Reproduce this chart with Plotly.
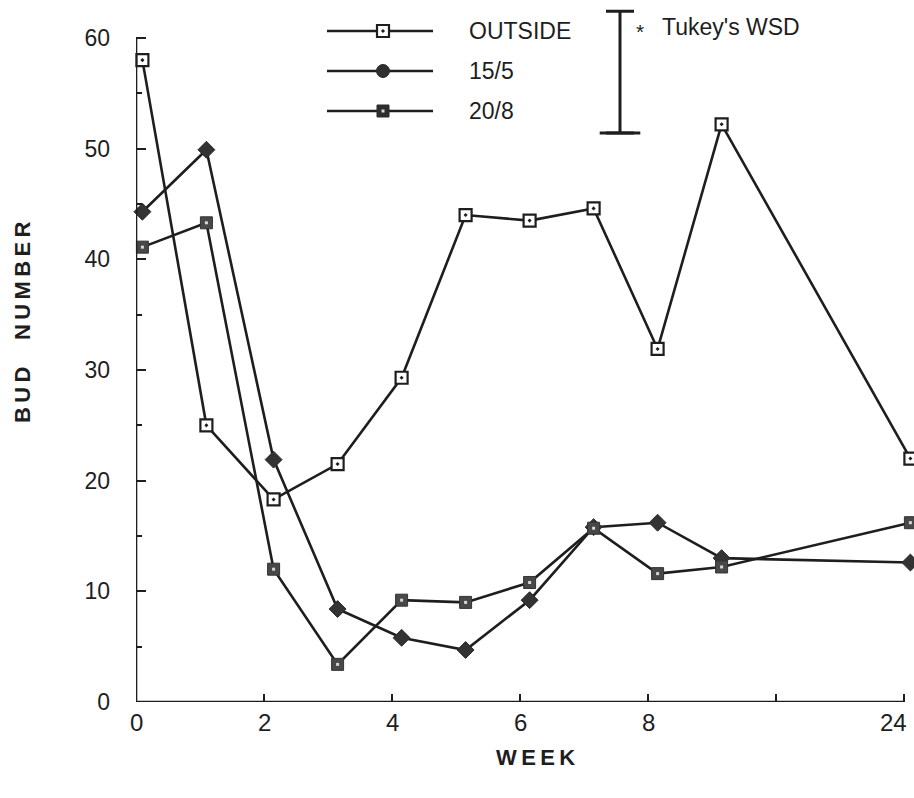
import plotly.graph_objects as go

# Sampling time (weeks) for each observation; the last one is week 24
WEEKS = [0.1, 1.1, 2.15, 3.15, 4.15, 5.15, 6.15, 7.15, 8.15, 9.15, 24.1]

# Bud number per treatment
OUTSIDE = [58.0, 25.0, 18.3, 21.5, 29.3, 44.0, 43.5, 44.6, 31.9, 52.2, 22.0]
T15_5 = [44.3, 49.9, 21.9, 8.4, 5.8, 4.7, 9.2, 15.8, 16.2, 13.0, 12.6]
T20_8 = [41.1, 43.3, 12.0, 3.4, 9.2, 9.0, 10.8, 15.7, 11.6, 12.2, 16.2]

# Tukey's WSD (bud number)
TUKEY_WSD = 11.0

X_TICK_WEEKS = [0, 2, 4, 6, 8, 10, 24]
X_TICK_LABELS = ["0", "2", "4", "6", "8", "", "24"]
Y_TICKS = [0, 10, 20, 30, 40, 50, 60]

INK = "#1e1e1e"
FONT = "Liberation Sans, Arial, Helvetica, sans-serif"


def axis_pos(week):
    """Broken time axis: weeks past 10 are compressed so week 24 sits at 12."""
    return week if week <= 10.5 else week - 12


X = [axis_pos(w) for w in WEEKS]

# figure geometry (pixels)
W, H = 914, 798
ML, MR, MT, MB = 136, 2, 0, 96
PLOT_H = H - MT - MB
PX_PER_X = 64.0
PX_PER_Y = 11.067
X_MAX = (W - ML - MR) / PX_PER_X
Y_MAX = PLOT_H / PX_PER_Y


def dx(px):
    return (px - ML) / PX_PER_X


def dy(py):
    return (H - MB - py) / PX_PER_Y


def py_paper(py):
    return (H - MB - py) / PLOT_H


fig = go.Figure()

# data series
fig.add_trace(go.Scatter(
    x=X, y=OUTSIDE, mode="lines+markers", name="OUTSIDE",
    line=dict(color=INK, width=2.6),
    marker=dict(symbol="square-dot", size=12, color="white",
                line=dict(color=INK, width=2.2)),
    cliponaxis=False, showlegend=False))
fig.add_trace(go.Scatter(
    x=X, y=T15_5, mode="lines+markers", name="15/5",
    line=dict(color=INK, width=2.6),
    marker=dict(symbol="diamond", size=13, color="#333333",
                line=dict(color="#2a2a2a", width=1)),
    cliponaxis=False, showlegend=False))
fig.add_trace(go.Scatter(
    x=X, y=T20_8, mode="lines+markers", name="20/8",
    line=dict(color=INK, width=2.6),
    marker=dict(symbol="square", size=12, color="#484848",
                line=dict(color="#333333", width=1)),
    cliponaxis=False, showlegend=False))
fig.add_trace(go.Scatter(
    x=X, y=T20_8, mode="markers", hoverinfo="skip",
    marker=dict(symbol="square", size=3, color="#d8d8d8"),
    cliponaxis=False, showlegend=False))

# legend samples
LEG_X0, LEG_X1, LEG_XM, LEG_TX = dx(327), dx(433), dx(383), dx(467)
legend_rows = [
    ("OUTSIDE", dy(31), dict(symbol="square-dot", size=12, color="white",
                             line=dict(color=INK, width=2.2))),
    ("15/5", dy(71), dict(symbol="circle", size=13, color="#2e2e2e",
                          line=dict(color="#2a2a2a", width=1))),
    ("20/8", dy(111), dict(symbol="square", size=12, color="#2e2e2e",
                           line=dict(color="#2a2a2a", width=1))),
]
for label, yy, mk in legend_rows:
    fig.add_trace(go.Scatter(
        x=[LEG_X0, LEG_X1], y=[yy, yy], mode="lines",
        line=dict(color=INK, width=2.6), hoverinfo="skip",
        cliponaxis=False, showlegend=False))
    fig.add_trace(go.Scatter(
        x=[LEG_XM], y=[yy], mode="markers", marker=mk, hoverinfo="skip",
        cliponaxis=False, showlegend=False))
    fig.add_annotation(x=LEG_TX, y=yy, text=label, showarrow=False,
                       xanchor="left", yanchor="middle",
                       font=dict(family=FONT, size=23, color=INK))
fig.add_trace(go.Scatter(
    x=[LEG_XM], y=[dy(111)], mode="markers", hoverinfo="skip",
    marker=dict(symbol="square", size=3, color="#d8d8d8"),
    cliponaxis=False, showlegend=False))

# Tukey's WSD bar
wsd_base = dy(133)
fig.add_trace(go.Scatter(
    x=[dx(620)], y=[wsd_base], mode="markers", hoverinfo="skip",
    marker=dict(size=1, color="rgba(0,0,0,0)"),
    error_y=dict(type="data", symmetric=False, array=[TUKEY_WSD],
                 arrayminus=[0], color=INK, thickness=3, width=14),
    cliponaxis=False, showlegend=False))
fig.add_trace(go.Scatter(
    x=[dx(620)], y=[wsd_base], mode="markers", hoverinfo="skip",
    marker=dict(symbol="line-ew", size=29, line=dict(color=INK, width=3)),
    cliponaxis=False, showlegend=False))
fig.add_annotation(x=dx(640), y=dy(31), text="*", showarrow=False,
                   xanchor="center", yanchor="middle",
                   font=dict(family=FONT, size=21, color=INK))
fig.add_annotation(x=dx(660), y=dy(27), text="Tukey's WSD", showarrow=False,
                   xanchor="left", yanchor="middle",
                   font=dict(family=FONT, size=23, color=INK))

# axis lines
fig.add_shape(type="line", x0=0, x1=axis_pos(24), y0=0, y1=0,
              line=dict(color=INK, width=2.6))
fig.add_shape(type="line", x0=0, x1=0, y0=0, y1=60,
              line=dict(color=INK, width=2.6))

# tick labels along the time axis; the last one is kept inside the page edge
x_tick_pos = [axis_pos(w) for w in X_TICK_WEEKS]
for pos, lab in zip(x_tick_pos, X_TICK_LABELS):
    if not lab:
        continue
    last = pos == x_tick_pos[-1]
    fig.add_annotation(xref="x", yref="paper", x=pos, y=py_paper(723),
                       text=lab, showarrow=False,
                       xanchor="right" if last else "center",
                       xshift=5 if last else 0, yanchor="middle",
                       font=dict(family=FONT, size=24, color=INK))

# axis titles
fig.add_annotation(xref="paper", yref="paper", x=dx(535) / X_MAX,
                   y=py_paper(757),
                   text="W\u2009E\u2009E\u2009K", showarrow=False,
                   xanchor="center", yanchor="middle",
                   font=dict(family=FONT, size=22, color=INK, weight="bold"))
fig.add_annotation(xref="paper", yref="paper", x=-(ML - 22) / (W - ML - MR),
                   y=py_paper(322),
                   text="B\u2009U\u2009D\u2003\u2009N\u2009U\u2009M\u2009B\u2009E\u2009R",
                   showarrow=False, textangle=-90,
                   xanchor="center", yanchor="middle",
                   font=dict(family=FONT, size=22, color=INK, weight="bold"))

fig.update_xaxes(
    range=[0, X_MAX], showgrid=False, zeroline=False, showline=False,
    automargin=False, showticklabels=False,
    tickmode="array", tickvals=x_tick_pos,
    ticks="inside", ticklen=8, tickwidth=2.2, tickcolor=INK)
fig.update_yaxes(
    range=[0, Y_MAX], showgrid=False, zeroline=False, showline=False,
    automargin=False,
    tickmode="array", tickvals=Y_TICKS, ticks="inside", ticklen=10,
    tickwidth=2.2, tickcolor=INK, ticklabelstandoff=25,
    tickfont=dict(family=FONT, size=23, color=INK),
    minor=dict(tickmode="array", tickvals=[5, 15, 25, 35, 45, 55],
               ticks="inside", ticklen=6, tickwidth=2, tickcolor=INK,
               showgrid=False))

fig.update_layout(
    width=W, height=H,
    margin=dict(l=ML, r=MR, t=MT, b=MB, autoexpand=False),
    paper_bgcolor="white", plot_bgcolor="white",
    showlegend=False,
    font=dict(family=FONT, color=INK),
)

fig.write_html("out.html")
